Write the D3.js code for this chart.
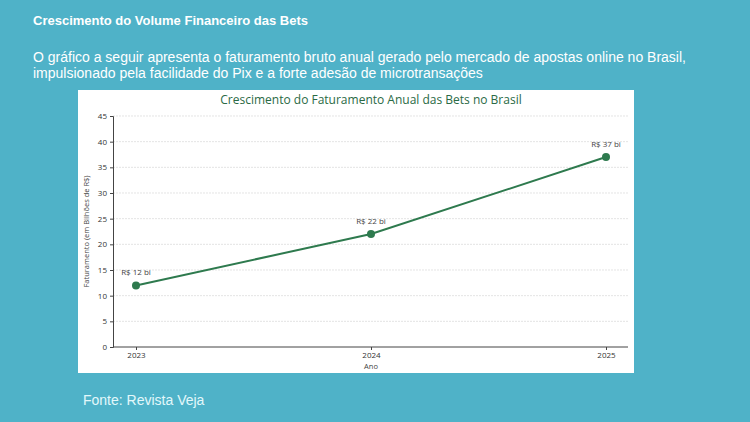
<!DOCTYPE html>
<html>
<head>
<meta charset="utf-8">
<script src="https://cdn.jsdelivr.net/npm/d3@7"></script>
<style>
  body { margin: 0; background: #4fb2c8; }
  svg { display: block; }
</style>
</head>
<body>
<svg id="chart" width="750" height="422"></svg>
<script>
// data
const years = ["2023", "2024", "2025"];
const revenue = [12, 22, 37];
const pointLabels = ["R$ 12 bi", "R$ 22 bi", "R$ 37 bi"];
const yTicks = [0, 5, 10, 15, 20, 25, 30, 35, 40, 45];

const svg = d3.select("#chart");
const green = "#2e7a4e";

// slide texts
svg.append("text")
    .attr("x", 33).attr("y", 25)
    .style("font", "bold 13px 'Liberation Sans', Arial, sans-serif")
    .style("fill", "#ffffff")
    .text("Crescimento do Volume Financeiro das Bets");

const subtitle = [
    "O gráfico a seguir apresenta o faturamento bruto anual gerado pelo mercado de apostas online no Brasil,",
    "impulsionado pela facilidade do Pix e a forte adesão de microtransações"
];
svg.selectAll("text.sub")
    .data(subtitle)
    .join("text")
    .attr("class", "sub")
    .attr("x", 33)
    .attr("y", (d, i) => 62 + i * 16)
    .style("font", "14px 'Liberation Sans', Arial, sans-serif")
    .style("fill", "#ffffff")
    .text(d => d);

svg.append("text")
    .attr("x", 83).attr("y", 405)
    .style("font", "14px 'Liberation Sans', Arial, sans-serif")
    .style("fill", "#e3f8fb")
    .text("Fonte: Revista Veja");

// inner chart card
const card = {x: 78, y: 90, w: 556, h: 283};
svg.append("rect")
    .attr("x", card.x).attr("y", card.y)
    .attr("width", card.w).attr("height", card.h)
    .attr("fill", "#ffffff");

const margin = {left: 113, right: 628, top: 116, bottom: 347};

const x = d3.scalePoint()
    .domain(years)
    .range([136, 606]);

const y = d3.scaleLinear()
    .domain([0, 45])
    .range([margin.bottom, margin.top]);

const font = "'Open Sans', 'Noto Sans', sans-serif";

svg.append("text")
    .attr("x", 371).attr("y", 104)
    .attr("text-anchor", "middle")
    .style("font-family", font)
    .style("font-size", "12px")
    .style("fill", "#2a6a45")
    .text("Crescimento do Faturamento Anual das Bets no Brasil");

// grid
svg.append("g")
    .selectAll("line")
    .data(yTicks.slice(1))
    .join("line")
    .attr("x1", margin.left).attr("x2", margin.right)
    .attr("y1", d => y(d)).attr("y2", d => y(d))
    .attr("stroke", "#d9d9d9")
    .attr("stroke-width", 0.7)
    .attr("stroke-dasharray", "2,1");

// axes
const yAxis = svg.append("g")
    .attr("transform", `translate(${margin.left},0)`)
    .call(d3.axisLeft(y).tickValues(yTicks).tickSize(3).tickPadding(3));

const xAxis = svg.append("g")
    .attr("transform", `translate(0,${margin.bottom})`)
    .call(d3.axisBottom(x).tickSize(3).tickPadding(2).tickSizeOuter(0));

xAxis.select(".domain").attr("d", `M${margin.left},0H${margin.right}`);

[yAxis, xAxis].forEach(a => {
    a.select(".domain").attr("stroke", "#444").attr("stroke-width", 1);
    a.selectAll(".tick line").attr("stroke", "#444");
    a.selectAll("text")
        .style("font-family", font)
        .style("font-size", "8px")
        .style("fill", "#333");
});

svg.append("text")
    .attr("x", 371).attr("y", 369)
    .attr("text-anchor", "middle")
    .style("font-family", font)
    .style("font-size", "7.5px")
    .style("fill", "#444")
    .text("Ano");

svg.append("text")
    .attr("transform", `translate(89,${(margin.top + margin.bottom) / 2}) rotate(-90)`)
    .attr("text-anchor", "middle")
    .style("font-family", font)
    .style("font-size", "7.5px")
    .style("fill", "#444")
    .text("Faturamento (em Bilhões de R$)");

// line and points
const points = years.map((yr, i) => ({year: yr, value: revenue[i], label: pointLabels[i]}));

svg.append("path")
    .datum(points)
    .attr("fill", "none")
    .attr("stroke", green)
    .attr("stroke-width", 2)
    .attr("d", d3.line().x(d => x(d.year)).y(d => y(d.value)));

svg.selectAll("circle.pt")
    .data(points)
    .join("circle")
    .attr("class", "pt")
    .attr("cx", d => x(d.year))
    .attr("cy", d => y(d.value))
    .attr("r", 4)
    .attr("fill", green);

svg.selectAll("text.lbl")
    .data(points)
    .join("text")
    .attr("class", "lbl")
    .attr("x", d => x(d.year))
    .attr("y", d => y(d.value) - 10)
    .attr("text-anchor", "middle")
    .style("font-family", font)
    .style("font-size", "8px")
    .style("fill", "#444")
    .text(d => d.label);
</script>
</body>
</html>
